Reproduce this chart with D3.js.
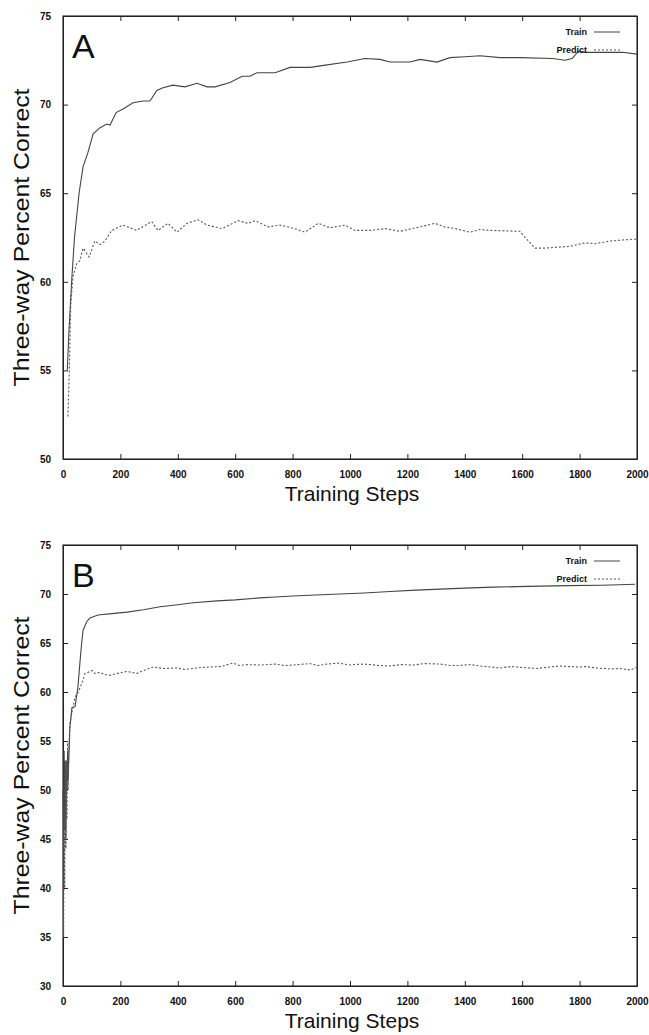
<!DOCTYPE html>
<html>
<head>
<meta charset="utf-8">
<script src="https://cdn.jsdelivr.net/npm/d3@7"></script>
<style>
  html, body { margin: 0; padding: 0; background: #fff; }
  svg { display: block; }
  text { font-family: "Liberation Sans", Arial, Helvetica, sans-serif; fill: #111; }
</style>
</head>
<body>
<svg id="chart" width="649" height="1035"></svg>
<script>
// ---------- DATA ----------
const xTicks = [0, 200, 400, 600, 800, 1000, 1200, 1400, 1600, 1800, 2000];
const yTicksA = [50, 55, 60, 65, 70, 75];
const yTicksB = [30, 35, 40, 45, 50, 55, 60, 65, 70, 75];
const seriesNames = ["Train", "Predict"];

// Panel A
const trainStepsA = [15, 20, 25, 30, 40, 56, 70, 87, 105, 129, 153, 164, 185, 209, 244, 279, 303, 327, 348, 383, 425, 467, 502, 530, 582, 624, 652, 676, 739, 791, 861, 902, 990, 1052, 1105, 1139, 1209, 1244, 1303, 1348, 1401, 1453, 1523, 1592, 1707, 1749, 1774, 1795, 1820, 1900, 1950, 2000];
const trainValsA  = [55, 57, 58.5, 60, 62.5, 65, 66.5, 67.3, 68.35, 68.7, 68.9, 68.85, 69.55, 69.75, 70.1, 70.2, 70.2, 70.8, 70.95, 71.1, 71.0, 71.2, 71.0, 71.0, 71.25, 71.6, 71.6, 71.8, 71.8, 72.1, 72.1, 72.2, 72.4, 72.6, 72.55, 72.4, 72.4, 72.55, 72.4, 72.65, 72.7, 72.76, 72.65, 72.65, 72.6, 72.5, 72.6, 73.0, 72.95, 72.95, 72.95, 72.85];
const predStepsA  = [17, 22, 27, 35, 47, 59, 70, 91, 111, 129, 146, 170, 209, 256, 309, 331, 366, 397, 432, 470, 502, 530, 554, 610, 645, 669, 714, 756, 808, 843, 889, 930, 983, 1017, 1070, 1122, 1174, 1244, 1296, 1330, 1366, 1418, 1453, 1488, 1592, 1610, 1645, 1679, 1766, 1819, 1854, 1906, 1983, 2000];
const predValsA   = [52.4, 55, 58.7, 60.3, 61, 61.2, 61.9, 61.4, 62.3, 62.1, 62.3, 62.9, 63.2, 62.9, 63.4, 62.9, 63.3, 62.8, 63.3, 63.5, 63.2, 63.1, 63.0, 63.45, 63.3, 63.45, 63.1, 63.2, 63.0, 62.8, 63.3, 63.05, 63.2, 62.9, 62.9, 63.0, 62.85, 63.1, 63.3, 63.1, 63.0, 62.8, 62.95, 62.9, 62.85, 62.5, 61.9, 61.9, 62.0, 62.2, 62.15, 62.3, 62.4, 62.4];

// Panel B
const trainStepsB = [0, 2, 4, 6, 8, 10, 12, 14, 16, 18, 20, 24, 31, 42, 52, 59, 65, 70, 83, 94, 122, 170, 223, 280, 338, 400, 453, 537, 600, 686, 740, 801, 880, 965, 1050, 1140, 1230, 1314, 1400, 1500, 1580, 1662, 1760, 1871, 1940, 1993];
const trainValsB  = [50, 44, 54, 46, 53, 45, 52, 50, 54, 51, 53, 56.3, 58.4, 58.5, 60.5, 63, 65, 66.3, 67.2, 67.55, 67.85, 68.0, 68.15, 68.4, 68.7, 68.9, 69.1, 69.3, 69.4, 69.6, 69.7, 69.8, 69.9, 70.0, 70.1, 70.25, 70.4, 70.5, 70.6, 70.7, 70.75, 70.8, 70.85, 70.9, 70.95, 71.0];
const predStepsB  = [0, 2, 4, 6, 8, 10, 12, 14, 16, 18, 20, 24, 42, 52, 66, 77, 87, 101, 111, 130, 145, 164, 190, 223, 258, 290, 314, 350, 397, 425, 453, 480, 512, 550, 592, 615, 640, 686, 740, 770, 801, 860, 890, 920, 960, 1000, 1035, 1070, 1100, 1139, 1180, 1220, 1260, 1314, 1350, 1380, 1420, 1453, 1490, 1523, 1560, 1600, 1650, 1697, 1730, 1760, 1800, 1819, 1860, 1906, 1940, 1976, 2000];
const predValsB   = [45, 35, 48, 40, 52, 44, 53, 47, 55, 50, 54, 56.8, 59.5, 59.9, 60.9, 61.9, 62.0, 62.2, 61.9, 62.0, 61.8, 61.7, 61.9, 62.1, 61.9, 62.3, 62.55, 62.4, 62.45, 62.3, 62.4, 62.5, 62.55, 62.6, 62.95, 62.7, 62.8, 62.75, 62.85, 62.7, 62.75, 62.9, 62.7, 62.85, 62.95, 62.75, 62.85, 62.8, 62.7, 62.65, 62.8, 62.75, 62.9, 62.85, 62.7, 62.7, 62.8, 62.65, 62.55, 62.45, 62.6, 62.5, 62.4, 62.55, 62.65, 62.6, 62.55, 62.6, 62.45, 62.35, 62.4, 62.25, 62.5];

// ---------- DRAW ----------
const svg = d3.select("#chart");

function zip(s, v) { return s.map((d, i) => [d, v[i]]); }

function panel(cfg) {
  const x = d3.scaleLinear().domain([0, 2000]).range([cfg.left, cfg.right]);
  const y = d3.scaleLinear().domain(cfg.yDomain).range([cfg.bottom, cfg.top]);
  const g = svg.append("g");

  // frame
  g.append("rect")
    .attr("x", cfg.left).attr("y", cfg.top)
    .attr("width", cfg.right - cfg.left).attr("height", cfg.bottom - cfg.top)
    .attr("fill", "none").attr("stroke", "#222").attr("stroke-width", 1.1);

  const fmt = d3.format("d");
  // axes with inward ticks
  const bottomAxis = d3.axisBottom(x).tickValues(xTicks).tickFormat(fmt).tickSizeInner(-5).tickSizeOuter(0).tickPadding(12);
  const gb = g.append("g").attr("transform", `translate(0,${cfg.bottom})`).call(bottomAxis);
  const topAxis = d3.axisTop(x).tickValues(xTicks).tickSizeInner(-5).tickSizeOuter(0).tickFormat("");
  const gt = g.append("g").attr("transform", `translate(0,${cfg.top})`).call(topAxis);
  const leftAxis = d3.axisLeft(y).tickValues(cfg.yTicks).tickFormat(fmt).tickSizeInner(-5).tickSizeOuter(0).tickPadding(12);
  const gl = g.append("g").attr("transform", `translate(${cfg.left},0)`).call(leftAxis);
  const rightAxis = d3.axisRight(y).tickValues(cfg.yTicks).tickSizeInner(-5).tickSizeOuter(0).tickFormat("");
  const gr = g.append("g").attr("transform", `translate(${cfg.right},0)`).call(rightAxis);
  [gb, gt, gl, gr].forEach(a => {
    a.select(".domain").attr("stroke", "#222");
    a.selectAll(".tick line").attr("stroke", "#222");
    a.selectAll("text").style("font-family", "'Liberation Sans', Arial, sans-serif")
      .style("font-size", "10px").style("font-weight", "bold").attr("fill", "#222");
  });

  // lines
  const line = d3.line().x(d => x(d[0])).y(d => y(d[1]));
  g.append("path").datum(zip(cfg.trainSteps, cfg.trainVals))
    .attr("d", line).attr("fill", "none").attr("stroke", "#444").attr("stroke-width", 1.1);
  g.append("path").datum(zip(cfg.predSteps, cfg.predVals))
    .attr("d", line).attr("fill", "none").attr("stroke", "#555").attr("stroke-width", 1.1)
    .attr("stroke-dasharray", "2,2");

  // panel letter
  g.append("text").attr("x", cfg.left + 9).attr("y", cfg.top + 42)
    .style("font-size", "34px").text(cfg.letter);

  // legend
  const lx = cfg.right - 50, ly = cfg.top + 16;
  seriesNames.forEach((name, i) => {
    const yy = ly + i * 18;
    g.append("text").attr("x", lx).attr("y", yy + 3).attr("text-anchor", "end")
      .style("font-size", "9px").style("font-weight", "bold").text(name);
    g.append("line").attr("x1", lx + 7).attr("x2", lx + 33).attr("y1", yy).attr("y2", yy)
      .attr("stroke", i === 0 ? "#444" : "#555").attr("stroke-width", 1)
      .attr("stroke-dasharray", i === 0 ? null : "2,2");
  });

  // axis titles
  g.append("text")
    .attr("transform", `translate(29,${(cfg.top + cfg.bottom) / 2}) rotate(-90)`)
    .attr("text-anchor", "middle").style("font-size", "22px")
    .attr("textLength", 298).attr("lengthAdjust", "spacingAndGlyphs")
    .text("Three-way Percent Correct");
  g.append("text").attr("x", (cfg.left + cfg.right) / 2 + 2).attr("y", cfg.bottom + 42)
    .attr("text-anchor", "middle").style("font-size", "21px").text("Training Steps");
}

panel({ letter: "A", left: 63, right: 637, top: 16, bottom: 459, yDomain: [50, 75], yTicks: yTicksA,
  trainSteps: trainStepsA, trainVals: trainValsA, predSteps: predStepsA, predVals: predValsA });
panel({ letter: "B", left: 63, right: 637, top: 545, bottom: 986, yDomain: [30, 75], yTicks: yTicksB,
  trainSteps: trainStepsB, trainVals: trainValsB, predSteps: predStepsB, predVals: predValsB });
</script>
</body>
</html>
